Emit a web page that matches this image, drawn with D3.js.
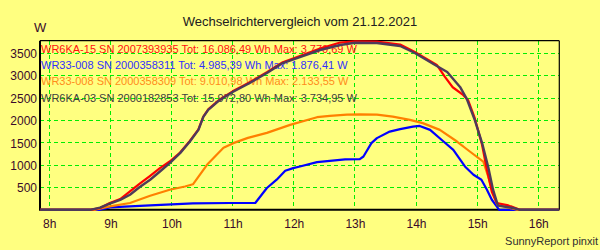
<!DOCTYPE html>
<html><head><meta charset="utf-8">
<script src="https://cdn.jsdelivr.net/npm/d3@7"></script>
<style>
html,body{margin:0;padding:0;background:#ffff80;}
svg{display:block;font-family:"Liberation Sans",Arial,sans-serif;}
</style></head>
<body><svg id="c" width="600" height="250"></svg>
<script>
const title = "Wechselrichtervergleich vom 21.12.2021";
const unitLabel = "W";
const footer = "SunnyReport pinxit";
const xTicks = [8, 9, 10, 11, 12, 13, 14, 15, 16];
const xTickLabels = ["8h", "9h", "10h", "11h", "12h", "13h", "14h", "15h", "16h"];
const yTicks = [500, 1000, 1500, 2000, 2500, 3000, 3500];
const yTickLabels = ["500", "1000", "1500", "2000", "2500", "3000", "3500"];
const seriesNames = [
  "WR6KA-15 SN 2007393935 Tot: 16.086,49 Wh Max: 3.770,69 W",
  "WR33-008 SN 2000358311 Tot: 4.985,39 Wh Max: 1.876,41 W",
  "WR33-008 SN 2000358309 Tot: 9.010,98 Wh Max: 2.133,55 W",
  "WR6KA-03 SN 2000182853 Tot: 15.972,80 Wh Max: 3.734,95 W"
];
const seriesColors = ["#ff0000", "#0000ff", "#ff8000", "#4e3a5a"];
const legendColors = ["#ff1010", "#3030ff", "#ff8c1a", "#404040"];

// series 1: WR6KA-15 (red)
const redTimes  = [7.85, 8.67, 8.83, 8.99, 9.16, 9.32, 9.48, 9.65, 9.81, 9.97, 10.14, 10.30, 10.44, 10.52, 10.60, 10.79, 11.00, 11.28, 11.56, 11.82, 12.10, 12.43, 12.76, 13.00, 13.36, 13.74, 13.98, 14.34, 14.47, 14.60, 14.77, 14.85, 14.96, 15.08, 15.16, 15.24, 15.32, 15.51, 15.70, 16.34];
const redValues = [0, 0, 40, 152, 241, 411, 583, 761, 933, 1080, 1280, 1540, 1800, 2085, 2245, 2470, 2650, 2855, 3080, 3300, 3440, 3607, 3741, 3770, 3763, 3696, 3529, 3239, 2978, 2741, 2569, 2458, 2053, 1453, 895, 404, 152, 98, 0, 0];
// series 2: WR33-008 ...311 (blue)
const blueTimes  = [7.85, 8.83, 8.99, 9.32, 9.65, 10.09, 10.35, 10.96, 11.37, 11.56, 11.72, 11.86, 11.99, 12.10, 12.38, 12.59, 12.84, 13.08, 13.14, 13.27, 13.36, 13.57, 13.74, 13.95, 14.06, 14.23, 14.45, 14.61, 14.80, 14.94, 15.07, 15.16, 15.24, 15.32, 15.36, 16.34];
const blueValues = [0, 0, 54, 76, 98, 129, 143, 152, 152, 487, 673, 873, 933, 969, 1067, 1096, 1129, 1134, 1192, 1491, 1603, 1750, 1804, 1862, 1876, 1788, 1527, 1342, 969, 783, 672, 449, 225, 76, 0, 0];
// series 3: WR33-008 ...309 (orange)
const orangeTimes  = [7.85, 8.75, 8.99, 9.32, 9.65, 9.97, 10.22, 10.35, 10.58, 10.85, 11.01, 11.25, 11.56, 11.94, 12.38, 12.59, 12.87, 13.08, 13.36, 13.62, 13.90, 14.11, 14.39, 14.67, 14.88, 15.10, 15.18, 15.26, 15.33, 15.46, 15.65, 16.34];
const orangeValues = [0, 0, 76, 152, 315, 449, 522, 571, 1007, 1386, 1491, 1609, 1721, 1900, 2071, 2100, 2129, 2134, 2129, 2085, 2011, 1938, 1788, 1527, 1304, 1080, 746, 375, 114, 69, 0, 0];
// series 4: WR6KA-03 (dark)
const darkTimes  = [7.85, 8.67, 8.83, 8.99, 9.16, 9.32, 9.48, 9.65, 9.81, 9.97, 10.14, 10.30, 10.44, 10.52, 10.60, 10.79, 11.00, 11.28, 11.56, 11.82, 12.10, 12.43, 12.76, 13.00, 13.36, 13.74, 13.98, 14.34, 14.51, 14.72, 14.83, 14.96, 15.08, 15.18, 15.26, 15.34, 15.59, 15.70, 16.34];
const darkValues = [0, 0, 47, 136, 223, 337, 509, 672, 857, 1045, 1268, 1527, 1788, 2078, 2234, 2458, 2636, 2837, 3060, 3283, 3417, 3574, 3685, 3735, 3730, 3663, 3507, 3217, 3083, 2748, 2480, 2011, 1498, 962, 449, 92, 40, 0, 0];

const seriesTimes = [redTimes, blueTimes, orangeTimes, darkTimes];
const seriesValues = [redValues, blueValues, orangeValues, darkValues];

const svg = d3.select("#c");
const L = 40, R = 559.3, T = 40.7, B = 209.8;
const x = d3.scaleLinear().domain([7.848, 16.344]).range([L, R]);
const y = d3.scaleLinear().domain([0, 3782]).range([B, T]);
const ink = "#3a0a2a";

// title
svg.append("text").attr("x", 300).attr("y", 25.5).attr("text-anchor", "middle")
  .attr("font-size", 13).attr("fill", "#202020").text(title);
svg.append("text").attr("x", 34).attr("y", 32).attr("font-size", 13).attr("fill", ink).text(unitLabel);
svg.append("text").attr("x", 598).attr("y", 245).attr("text-anchor", "end")
  .attr("font-size", 11).attr("fill", "#303030").text(footer);

// grid
const g = svg.append("g");
g.selectAll("line.gx").data(xTicks).join("line")
  .attr("x1", d => x(d)).attr("x2", d => x(d)).attr("y1", T).attr("y2", B)
  .attr("stroke", "#00ee00").attr("stroke-width", 1).attr("stroke-dasharray", "4,3")
  .attr("shape-rendering", "crispEdges");
g.selectAll("line.gy").data(yTicks).join("line")
  .attr("y1", d => y(d)).attr("y2", d => y(d)).attr("x1", L).attr("x2", R)
  .attr("stroke", "#00ee00").attr("stroke-width", 1).attr("stroke-dasharray", "4,3")
  .attr("shape-rendering", "crispEdges");

// axes (labels only)
const xAxis = d3.axisBottom(x).tickValues(xTicks).tickSize(0).tickPadding(0)
  .tickFormat((d, i) => xTickLabels[i]);
const xa = svg.append("g").attr("transform", `translate(0,${B})`).call(xAxis);
xa.select(".domain").remove();
xa.selectAll("text").attr("font-size", 12).attr("fill", ink)
  .attr("font-family", '"Liberation Sans",Arial,sans-serif').attr("dy", null).attr("y", 18.5);
const yAxis = d3.axisLeft(y).tickValues(yTicks).tickSize(0).tickPadding(3)
  .tickFormat((d, i) => yTickLabels[i]);
const ya = svg.append("g").attr("transform", `translate(${L},0)`).call(yAxis);
ya.select(".domain").remove();
ya.selectAll("text").attr("font-size", 12).attr("fill", ink)
  .attr("font-family", '"Liberation Sans",Arial,sans-serif').attr("dy", "0.36em");

// frame
svg.append("line").attr("x1", L).attr("x2", R).attr("y1", T).attr("y2", T).attr("stroke", "#000").attr("stroke-width", 1.2);
svg.append("line").attr("x1", R).attr("x2", R).attr("y1", T).attr("y2", B).attr("stroke", "#000").attr("stroke-width", 1.2);
svg.append("line").attr("x1", L - 1).attr("x2", R).attr("y1", B).attr("y2", B).attr("stroke", "#000").attr("stroke-width", 2);
svg.append("line").attr("x1", L).attr("x2", L).attr("y1", T).attr("y2", B).attr("stroke", "#000").attr("stroke-width", 2);

// legend text
svg.selectAll("text.leg").data(seriesNames).join("text").attr("class", "leg")
  .attr("x", 41).attr("y", (d, i) => 53 + i * 16.2)
  .attr("font-size", 11).attr("fill", (d, i) => legendColors[i]).text(d => d);

// lines
const line = d3.line().x(d => x(d[0])).y(d => y(d[1]));
const order = [1, 2, 0, 3];
order.forEach(i => {
  const pts = seriesTimes[i].map((t, k) => [t, seriesValues[i][k]]);
  svg.append("path").attr("d", line(pts)).attr("fill", "none")
    .attr("stroke", seriesColors[i]).attr("stroke-width", i === 3 ? 2.4 : 2.2)
    .attr("stroke-linejoin", "round");
});
</script></body></html>
